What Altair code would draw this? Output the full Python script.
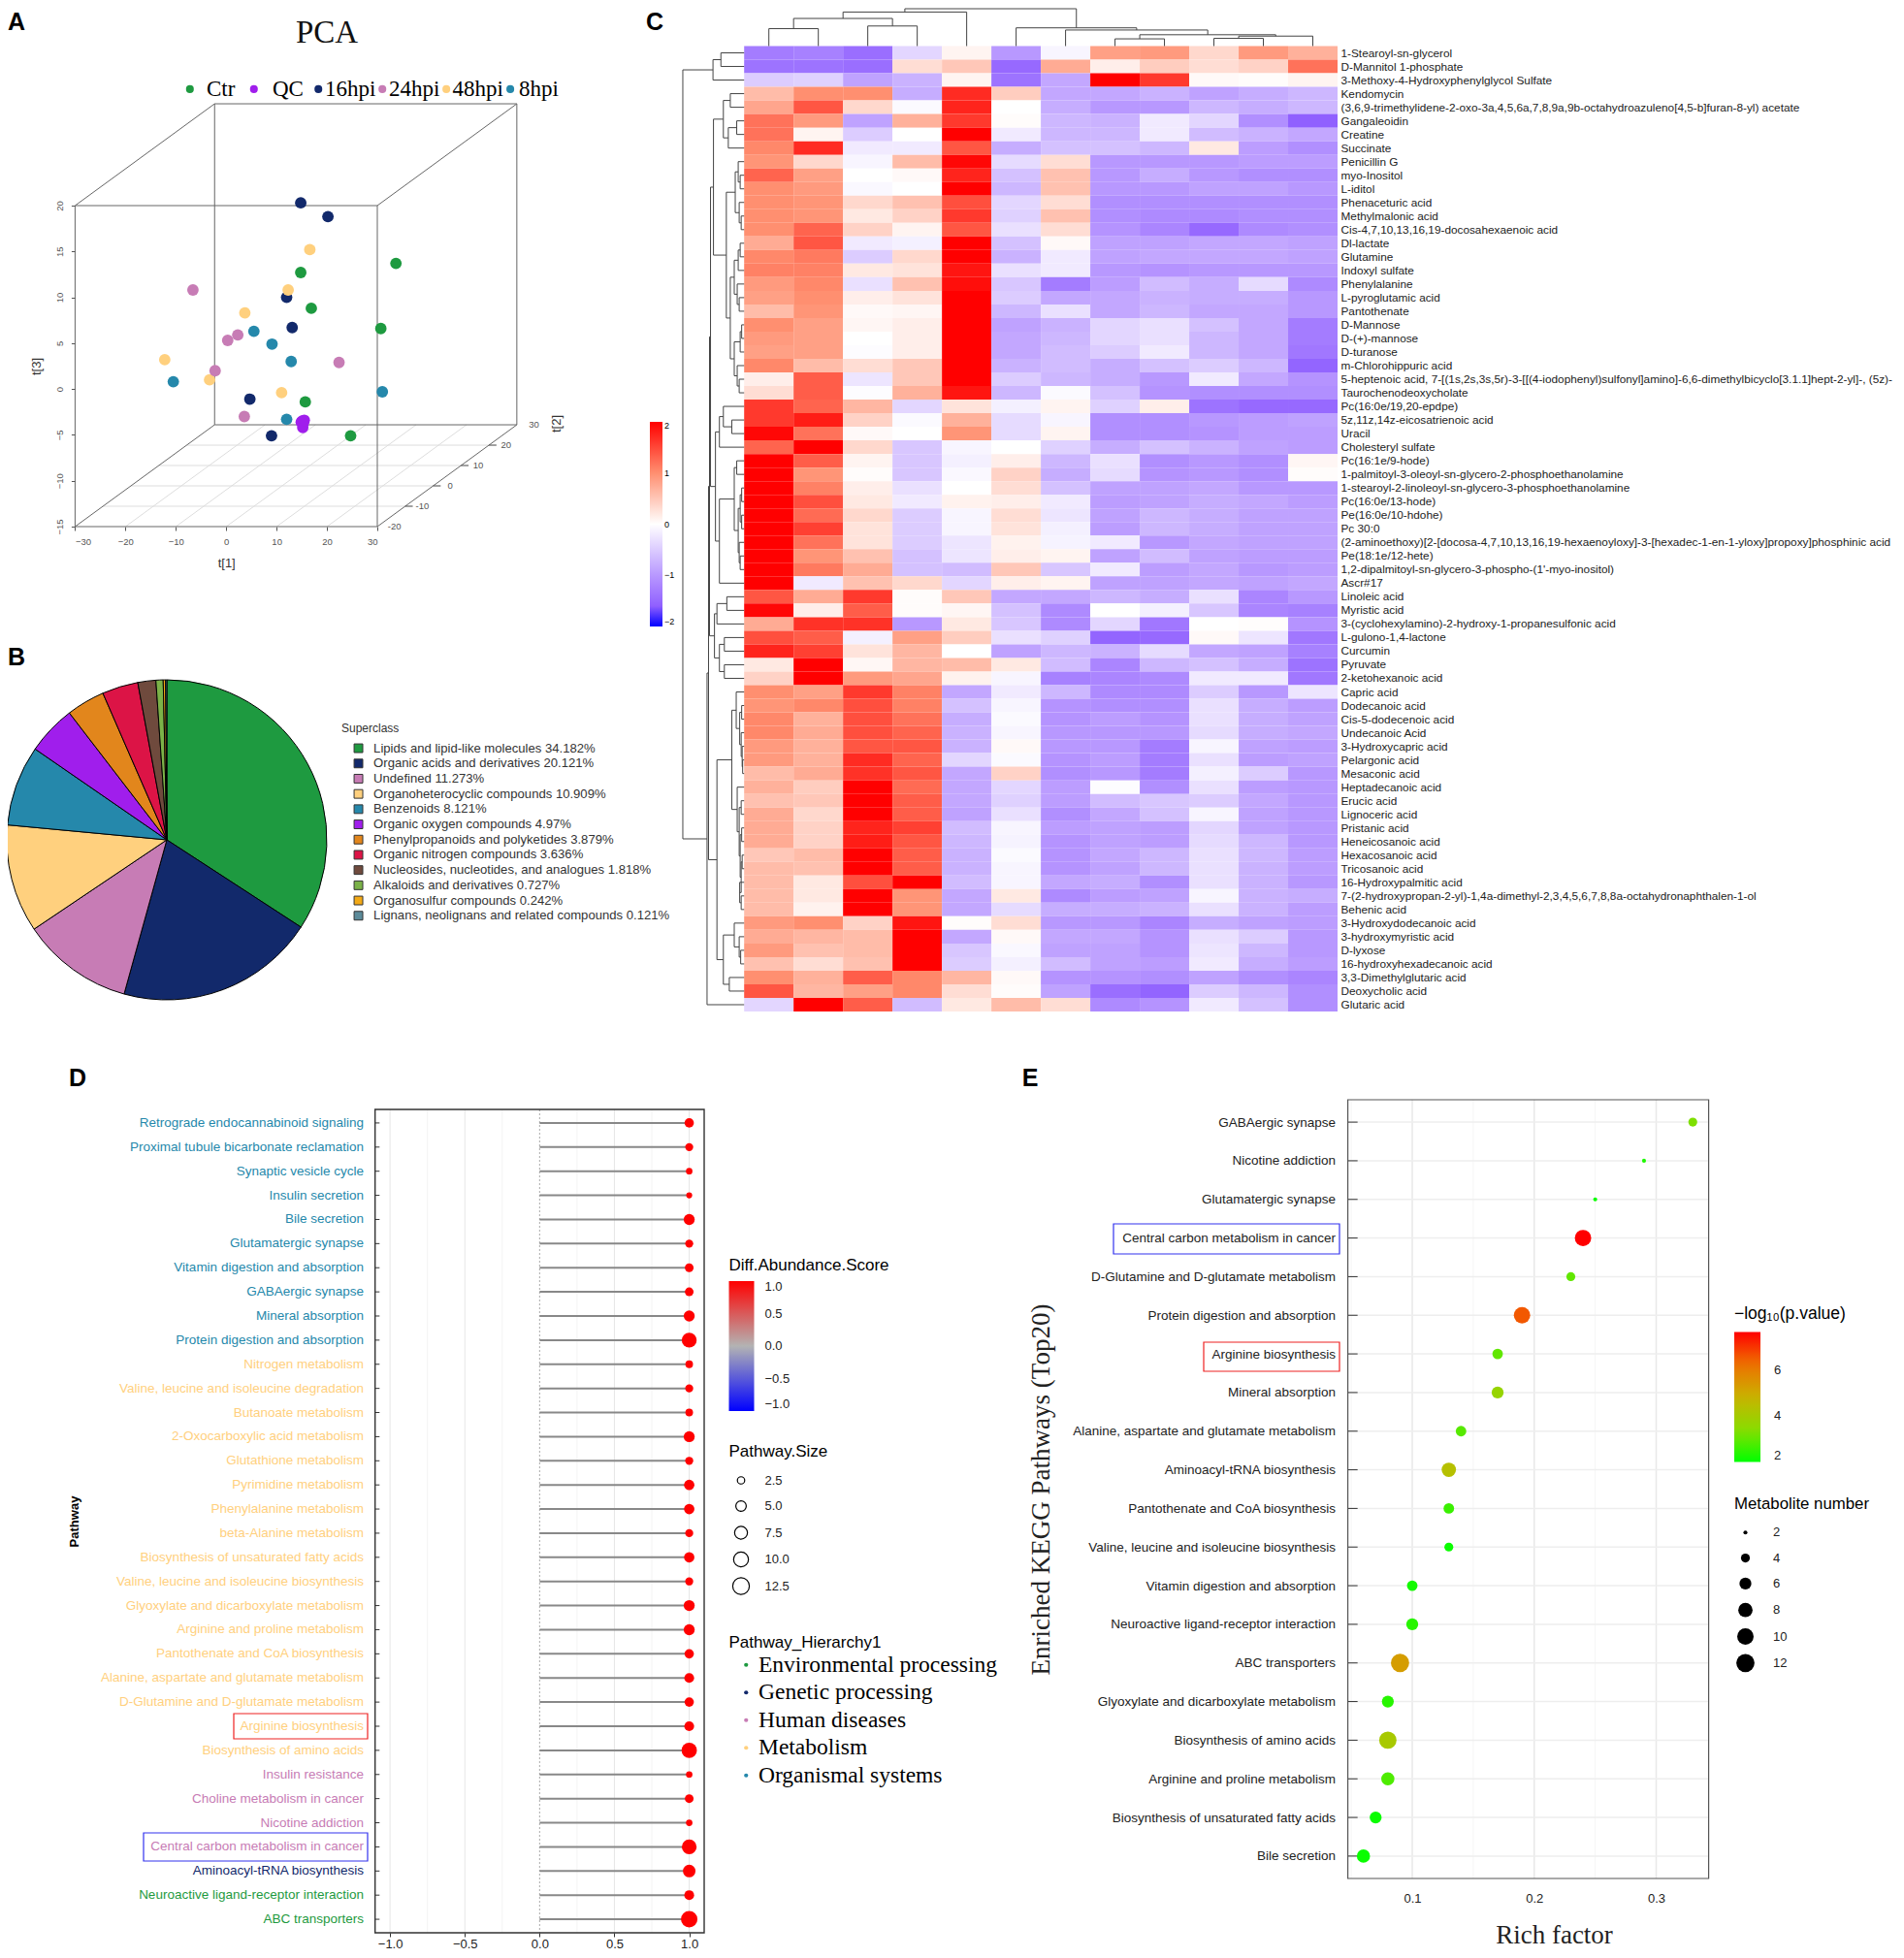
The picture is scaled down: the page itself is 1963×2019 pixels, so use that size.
import altair as alt
import pandas as pd

W, H = 1947, 2003
def vx(p): return p - 8
def vy(p): return p - 8
FONT = "Liberation Sans"
SERIF = "Liberation Serif"

# ---------------------------------------------------------------- panel A
pca_group = (["16hpi"]*6 + ["Ctr"]*6 + ["48hpi"]*6 + ["24hpi"]*6 + ["8hpi"]*6 + ["QC"]*5)
pca_t1 = [14.8,20.2,12.0,13.1,4.7,9.0, 33.7,14.8,16.9,30.7,15.7,24.7, 16.6,12.3,3.7,-12.2,-3.3,11.0,
          -6.6,2.3,0.3,-2.2,22.4,3.6, 5.5,9.1,12.9,-10.5,31.0,12.0, 15.1,15.3,14.9,15.2,15.5]
pca_t3 = [20.3,18.8,10.0,6.7,-1.1,-5.1, 13.7,12.7,8.8,6.6,-1.4,-5.1, 15.2,10.8,8.3,3.2,1.0,-0.4,
          10.8,5.9,5.3,2.0,2.9,-3.0, 6.3,4.9,3.0,0.8,-0.3,-3.3, -3.5,-3.7,-3.6,-4.2,-3.4]
pca_names = ["Ctr","QC","16hpi","24hpi","48hpi","8hpi"]
pca_colors = ["#1e9a40","#a01eec","#12296b","#c77cb5","#ffd07e","#2588ab"]
pca_key_dot = [-7.2,5.5,18.3,31.0,43.7,56.4]
pca_key_txt = [-3.9,9.2,19.6,32.3,44.9,58.1]
pca_key_y = [32.7]*6

def pr(t1, t2, t3):
    k = (t2 + 20) / 50
    return t1 + k * 27.7, t3 + k * 11.1

def seg(rows, a, b):
    p, q = pr(*a), pr(*b)
    rows.append({"x0": p[0], "y0": p[1], "x1": q[0], "y1": q[1]})

frame, floor, ticks = [], [], []
c = [(-30,-20,-15),(30,-20,-15),(30,-20,20),(-30,-20,20)]
d = [(-30,30,-15),(30,30,-15),(30,30,20),(-30,30,20)]
for i in range(4):
    seg(frame, c[i], c[(i+1)%4]); seg(frame, d[i], d[(i+1)%4]); seg(frame, c[i], d[i])
for t in [-10,0,10,20]:
    seg(floor, (-30,t,-15), (30,t,-15))
    seg(ticks, (30,t,-15), (31.5,t,-15))
for t in [-20,-10,0,10,20]:
    seg(floor, (t,-20,-15), (t,30,-15))
t2_vals = [-20,-10,0,10,20,30]
t2_lab = pd.DataFrame({"x":[pr(30,t,-15)[0]+3.4 for t in t2_vals],
                       "y":[pr(30,t,-15)[1] for t in t2_vals],"t":[str(t) for t in t2_vals]})
xA = alt.Scale(domain=[-30,30], range=[vx(77.4),vx(389)], nice=False, zero=False)
yA = alt.Scale(domain=[-15,20], range=[vy(543),vy(212)], nice=False, zero=False)
cA = alt.Scale(domain=pca_names, range=pca_colors)
def rulesA(rows, color, w):
    return alt.Chart(pd.DataFrame(rows)).mark_rule(color=color, strokeWidth=w).encode(
        x=alt.X("x0:Q", scale=xA), x2="x1:Q",
        y=alt.Y("y0:Q", scale=yA), y2="y1:Q")
pts = alt.Chart(pd.DataFrame({"t1":pca_t1,"t3":pca_t3,"g":pca_group})).mark_circle(size=140, opacity=1).encode(
    x=alt.X("t1:Q", scale=xA, axis=alt.Axis(orient="bottom", values=[-30,-20,-10,0,10,20,30], format="d", title="t[1]", offset=-(H-vy(543)),
        grid=False, domain=False, tickColor="#555", labelColor="#555", labelFontSize=9.5, tickSize=4,
        labelPadding=6, titleFontSize=13, titleFontWeight="normal", titlePadding=12, titleColor="#333")),
    y=alt.Y("t3:Q", scale=yA, axis=alt.Axis(orient="left", values=[-15,-10,-5,0,5,10,15,20], format="d", title="t[3]", offset=-vx(77.4),
        grid=False, domain=False, tickColor="#555", labelColor="#555", labelFontSize=9.5, tickSize=4,
        labelAngle=270, labelAlign="center", labelBaseline="bottom", labelPadding=7,
        titleFontSize=13, titleFontWeight="normal", titlePadding=12, titleColor="#333")),
    color=alt.Color("g:N", scale=cA, legend=None))
key_df = pd.DataFrame({"g":pca_names,"dx":pca_key_dot,"tx":pca_key_txt,"y":pca_key_y})
key_dots = alt.Chart(key_df).mark_circle(size=65, opacity=1).encode(
    x=alt.X("dx:Q", scale=xA), y=alt.Y("y:Q", scale=yA), color=alt.Color("g:N", scale=cA, legend=None))
key_text = alt.Chart(key_df).mark_text(font=SERIF, fontSize=23, align="left", color="black").encode(
    x=alt.X("tx:Q", scale=xA), y=alt.Y("y:Q", scale=yA), text="g:N")
t2text = alt.Chart(t2_lab).mark_text(fontSize=9.5, color="#555").encode(
    x=alt.X("x:Q", scale=xA), y=alt.Y("y:Q", scale=yA), text="t:N")
panel_a = alt.layer(rulesA(floor,"#dddddd",1), rulesA(frame,"#666666",1), rulesA(ticks,"#444444",1), pts, t2text, key_dots, key_text)
title_a = alt.Chart(pd.DataFrame({"t":["PCA"]})).mark_text(font=SERIF, fontSize=33, color="#111").encode(
    text="t:N", x=alt.value(vx(337)), y=alt.value(vy(34)))
t2_title = alt.Chart(pd.DataFrame({"t":["t[2]"]})).mark_text(fontSize=13, angle=270, color="#333").encode(
    text="t:N", x=alt.value(vx(574)), y=alt.value(vy(437)))

# ---------------------------------------------------------------- panel B
pie_names = ["Lipids and lipid-like molecules","Organic acids and derivatives","Undefined","Organoheterocyclic compounds",
             "Benzenoids","Organic oxygen compounds","Phenylpropanoids and polyketides","Organic nitrogen compounds",
             "Nucleosides, nucleotides, and analogues","Alkaloids and derivatives","Organosulfur compounds",
             "Lignans, neolignans and related compounds"]
pie_vals = [34.182,20.121,11.273,10.909,8.121,4.97,3.879,3.636,1.818,0.727,0.242,0.121]
pie_cols = ["#1e9a40","#12296b","#c77cb5","#ffd07e","#2588ab","#a01eec","#e2861c","#dc1446","#6f4a3d","#7bb248","#f3a916","#5c8b9a"]
pie_lab = [f"{n} {v}%" for n, v in zip(pie_names, pie_vals)]
pie = alt.Chart(pd.DataFrame({"lab":pie_lab,"v":pie_vals,"i":range(12)})).mark_arc(
    radius=165, stroke="black", strokeWidth=1).encode(
    theta=alt.Theta("v:Q", stack=True), order=alt.Order("i:Q"),
    x=alt.value(vx(172)), y=alt.value(vy(866)),
    color=alt.Color("lab:N", scale=alt.Scale(domain=pie_lab, range=pie_cols),
        legend=alt.Legend(orient="none", legendX=vx(352), legendY=vy(746), title="Superclass", padding=0,
            titleFontSize=12, titleFontWeight="normal", titleColor="#333", titlePadding=7,
            labelFontSize=13.1, labelColor="#333", labelLimit=0, symbolType="square", symbolSize=80,
            symbolStrokeColor="#333", symbolStrokeWidth=1, rowPadding=1.7, labelOffset=9, symbolOffset=11,
            columns=1)))

# ---------------------------------------------------------------- panel C
hm_rows = ["1-Stearoyl-sn-glycerol","D-Mannitol 1-phosphate","3-Methoxy-4-Hydroxyphenylglycol Sulfate","Kendomycin",
 "(3,6,9-trimethylidene-2-oxo-3a,4,5,6a,7,8,9a,9b-octahydroazuleno[4,5-b]furan-8-yl) acetate","Gangaleoidin","Creatine","Succinate",
 "Penicillin G","myo-Inositol","L-iditol","Phenaceturic acid","Methylmalonic acid","Cis-4,7,10,13,16,19-docosahexaenoic acid",
 "Dl-lactate","Glutamine","Indoxyl sulfate","Phenylalanine","L-pyroglutamic acid","Pantothenate","D-Mannose","D-(+)-mannose",
 "D-turanose","m-Chlorohippuric acid","5-heptenoic acid, 7-[(1s,2s,3s,5r)-3-[[(4-iodophenyl)sulfonyl]amino]-6,6-dimethylbicyclo[3.1.1]hept-2-yl]-, (5z)-",
 "Taurochenodeoxycholate","Pc(16:0e/19,20-epdpe)","5z,11z,14z-eicosatrienoic acid","Uracil","Cholesteryl sulfate","Pc(16:1e/9-hode)",
 "1-palmitoyl-3-oleoyl-sn-glycero-2-phosphoethanolamine","1-stearoyl-2-linoleoyl-sn-glycero-3-phosphoethanolamine","Pc(16:0e/13-hode)",
 "Pe(16:0e/10-hdohe)","Pc 30:0","(2-aminoethoxy)[2-[docosa-4,7,10,13,16,19-hexaenoyloxy]-3-[hexadec-1-en-1-yloxy]propoxy]phosphinic acid",
 "Pe(18:1e/12-hete)","1,2-dipalmitoyl-sn-glycero-3-phospho-(1'-myo-inositol)","Ascr#17","Linoleic acid","Myristic acid",
 "3-(cyclohexylamino)-2-hydroxy-1-propanesulfonic acid","L-gulono-1,4-lactone","Curcumin","Pyruvate","2-ketohexanoic acid","Capric acid",
 "Dodecanoic acid","Cis-5-dodecenoic acid","Undecanoic Acid","3-Hydroxycapric acid","Pelargonic acid","Mesaconic acid","Heptadecanoic acid",
 "Erucic acid","Lignoceric acid","Pristanic acid","Heneicosanoic acid","Hexacosanoic acid","Tricosanoic acid","16-Hydroxypalmitic acid",
 "7-(2-hydroxypropan-2-yl)-1,4a-dimethyl-2,3,4,5,6,7,8,8a-octahydronaphthalen-1-ol","Behenic acid","3-Hydroxydodecanoic acid",
 "3-hydroxymyristic acid","D-lyxose","16-hydroxyhexadecanoic acid","3,3-Dimethylglutaric acid","Deoxycholic acid","Glutaric acid"]
hm_vals = [
[-1.3,-1.25,-1.45,-.4,.1,-1.0,-.1,.85,.9,.35,.9,.7],
[-1.4,-1.4,-1.45,.3,.5,-1.5,.75,.15,.45,.3,.4,1.2],
[-.5,-.45,-.9,-.75,.1,-1.4,-.85,2,1.6,.05,.03,.1],
[.6,1.0,1.0,-.8,1.7,.45,-.85,-.85,-.75,-.9,-.8,-.7],
[.8,1.4,.35,-.05,1.75,0,-.8,-1.0,-1.0,-.7,-.8,-.7],
[1.2,.9,-.9,.7,1.6,.03,-.7,-.75,-.2,-.4,-1.1,-1.6],
[1.2,.1,-.5,0,2,-.2,-.7,-.7,-.2,-.65,-.75,-.85],
[1.05,1.7,-.2,-.2,1.4,-.8,-.6,-.6,-.7,.2,-.95,-1.1],
[.95,.35,-.1,.6,1.95,-.35,.3,-1.0,-1.0,-1.0,-.95,-.95],
[1.3,.85,0,.05,1.75,-.6,.55,-1.0,-.8,-1.0,-1.1,-1.1],
[1.0,.9,-.07,0,2,-.7,.55,-1.0,-1.0,-.9,-.9,-1.0],
[1.0,.95,.35,.55,1.45,-.4,.3,-1.1,-1.1,-1.1,-1.1,-1.1],
[1.0,.95,.2,.4,1.6,-.45,.55,-1.1,-1.15,-1.15,-1.1,-1.1],
[1.0,1.3,.4,.1,1.4,-.3,.3,-1.05,-1.2,-1.5,-1.15,-1.1],
[.75,1.4,-.2,-.15,2,-.6,.05,-.9,-.9,-.85,-.85,-.9],
[1.05,1.15,-.5,.35,2,-.75,-.2,-.9,-.85,-.85,-.85,-.9],
[1.1,1.1,.2,.25,1.85,-.3,-.2,-1.0,-1.05,-1.0,-1.0,-1.0],
[.9,1.05,-.3,.55,1.9,-.55,-1.3,-.95,-.65,-.8,-.35,-1.15],
[.85,1.0,.15,.25,2,-.5,-.85,-.85,-.75,-.8,-.8,-1.0],
[.6,.95,.05,.08,2,-.7,-.3,-.85,-.7,-.85,-.85,-1.0],
[1.0,.85,.08,.15,2,-.9,-.75,-.4,-.3,-.6,-.85,-1.3],
[.9,.85,0,.15,2,-.85,-.7,-.4,-.3,-.7,-.85,-1.3],
[.85,.85,-.03,.15,2,-.85,-.65,-.5,-.2,-.7,-.85,-1.35],
[1.05,.6,.3,.5,2,-.75,-.65,-.8,-.6,-.5,-.7,-1.55],
[.15,1.35,-.25,.5,2,-.5,-.7,-.8,-1.0,-.2,-.85,-1.05],
[.3,1.35,-.03,.7,1.85,-.7,-.05,-.6,-1.05,-1.1,-1.1,-1.1],
[1.6,1.3,.65,-.4,.25,-.15,.1,-.45,.15,-1.4,-1.5,-1.5],
[1.6,1.8,.4,-.05,.7,-.35,-.1,-1.1,-1.1,-1.0,-.95,-.9],
[1.95,1.2,.05,0,.95,-.35,.1,-1.1,-1.1,-1.05,-.95,-.95],
[1.3,2,.35,-.55,-.1,0,-.45,-.8,-.6,-.75,-.9,-.95],
[2,1.35,.1,-.55,-.15,.15,-.7,-.3,-1.1,-1.0,-1.1,.08],
[2,.95,.03,-.55,-.07,.4,-.8,-.35,-1.05,-1.0,-1.1,.03],
[2,1.1,.15,-.3,0,.3,-.6,-.9,-.9,-.85,-1.0,-1.0],
[2,1.45,.2,-.2,.12,.15,-.2,-.95,-.9,-.8,-.85,-.95],
[2,1.25,.35,-.5,-.1,.3,-.25,-.9,-.7,-.8,-.9,-.9],
[2,1.55,.25,-.5,-.1,.25,-.15,-.95,-.7,-.8,-.9,-.9],
[2,1.2,.25,-.5,-.25,.12,-.12,-.2,-1.0,-.85,-.9,-.9],
[2,.95,.55,-.6,-.25,.15,.1,-.9,-.65,-.9,-.95,-.95],
[2,1.15,.75,-.6,-.65,.5,-.55,-.2,-.95,-.85,-1.0,-.95],
[2,-.2,.55,.35,-.4,.15,.1,-.9,-.9,-.85,-.9,-.85],
[1.4,.75,1.6,.03,.5,-.85,-.85,-.7,-.8,-.3,-1.2,-1.0],
[1.95,.15,1.35,.03,.08,-.6,-1.15,0,-.15,-.55,-1.2,-1.25],
[.75,1.65,1.65,-1.0,.2,-.55,-1.15,-.4,-1.35,0,.02,-1.05],
[1.45,1.35,-.15,.85,.45,-.3,-.45,-1.55,-1.5,.05,-.25,-1.35],
[1.75,1.55,.25,.65,0,-.9,-.7,-.75,-.35,-.85,-.9,-1.25],
[.2,2,.07,.65,.6,.2,-.65,-1.2,-.7,-.6,-.8,-1.4],
[.4,2,.9,.8,.12,-.1,-1.25,-1.2,-1.15,-.2,-.2,-1.35],
[1.0,.85,1.6,1.1,-.85,-.2,-.7,-1.15,-1.15,-.5,-1.0,-.25],
[.95,1.05,1.45,1.1,-.6,-.1,-1.05,-1.1,-1.1,-.3,-.8,-.95],
[1.05,.7,1.45,1.2,-.8,-.05,-1.05,-.95,-1.05,-.3,-.8,-.9],
[1.05,.75,1.45,1.3,-.75,-.1,-1.0,-1.0,-1.0,-.35,-.8,-.85],
[.9,.7,1.4,1.4,-.75,.05,-1.0,-1.0,-1.3,-.1,-.9,-.95],
[.9,.7,1.7,1.3,-.4,-.05,-1.05,-.95,-1.3,-.3,-.95,-.9],
[.6,.75,1.65,1.4,-.85,.4,-1.1,-1.0,-1.3,-.15,-.5,-1.0],
[.7,.45,2,1.25,-.85,-.4,-.95,-.03,-1.1,-.3,-.95,-1.0],
[.55,.5,2,1.35,-.85,-.45,-.95,-.65,-.55,-.5,-.85,-1.0],
[.75,.35,2,1.35,-.9,-.3,-1.1,-.85,-.6,-.1,-.9,-1.0],
[.75,.4,1.75,1.55,-.65,-.1,-.95,-.9,-.95,-.4,-.9,-1.0],
[.75,.4,1.8,1.4,-.7,-.12,-1.05,-.9,-.95,-.35,-.7,-1.0],
[.5,.6,2,1.35,-.75,-.05,-1.05,-.85,-.7,-.3,-.7,-.95],
[.6,.55,2,1.35,-.75,-.1,-1.05,-.9,-.7,-.3,-.75,-.95],
[.6,.2,1.45,2,-.65,-.1,-.85,-.8,-1.1,-.3,-.75,-1.0],
[.6,.2,2,.95,-.85,.2,-1.15,-.95,-.9,-.1,-.75,-.8],
[.6,.12,2,.95,-.85,-.35,-.8,-.8,-.75,-.3,-.75,-.95],
[.9,1.0,.4,1.85,.03,.3,-1.0,-1.0,-1.2,-.8,-.9,-.95],
[.75,.65,.6,2,-.85,.05,-.85,-.85,-1.05,-.3,-.5,-1.0],
[.9,.55,.6,2,-.55,-.07,-.9,-.9,-1.05,-.25,-.7,-1.0],
[.55,.3,.55,2,-.5,-.15,-.65,-.9,-.95,-.2,-.8,-.95],
[1.0,.7,1.35,1.05,.65,.05,-1.05,-1.05,-1.1,-.9,-1.1,-1.2],
[1.4,.65,.85,1.05,.3,.03,-.9,-1.45,-1.55,-.5,-.7,-1.1],
[-.4,2,1.35,-.65,.2,.6,.3,-1.15,-1.05,-.2,-.6,-1.1]]
hm_cols = [f"S{i+1}" for i in range(12)]
hm_df = pd.DataFrame([{"r":hm_rows[i],"c":hm_cols[j],"v":hm_vals[i][j]} for i in range(71) for j in range(12)])
HX0, HX1, HY0, HY1 = vx(767.2), vx(1379), vy(47.5), vy(1043)
heat = alt.Chart(hm_df).mark_rect().encode(
    x=alt.X("c:N", sort=hm_cols, scale=alt.Scale(domain=hm_cols, range=[HX0,HX1], paddingInner=0, paddingOuter=0), axis=None),
    y=alt.Y("r:N", sort=hm_rows, scale=alt.Scale(domain=hm_rows, range=[HY0,HY1], paddingInner=0, paddingOuter=0),
        axis=alt.Axis(orient="right", offset=-(W-HX1), title=None, ticks=False, domain=False, labelFontSize=11.8,
            labelLimit=0, labelPadding=3, labelOverlap=False, labelColor="#222")),
    color=alt.Color("v:Q", scale=alt.Scale(domain=[-2,-1.6,-1,0,1,2],
            range=["#0000ff","#9060ff","#b898ff","#ffffff","#ff8f70","#ff0000"], interpolate="rgb"),
        legend=alt.Legend(orient="none", legendX=vx(670), legendY=vy(435), title=None, gradientLength=211, gradientThickness=13,
            values=[-2,-1,0,1,2], labelFontSize=9, padding=0, labelOverlap=False, labelOffset=2, format="d")))

col_tree = (46.5,(42.4,(34.4,(21.7,0,1),(25,2,3)),4),(22.7,5,(20,6,(14.1,(9,7,8),(12.4,(9.6,9,10),11)))))
r3_7 = (0.42,(0.28,3,4),(0.32,(0.15,5,6),7))
r8_13 = (0.18,(0.12,8,(0.08,9,10)),(0.1,11,(0.06,12,13)))
r14_19 = (0.2,(0.12,(0.08,14,15),16),(0.14,17,(0.1,18,19)))
r20_25 = (0.2,(0.08,(0.05,20,21),22),(0.14,23,(0.1,24,25)))
r8_25 = (0.36,r8_13,(0.28,r14_19,r20_25))
r3_25 = (0.62,r3_7,r8_25)
r26_29 = (0.5,(0.42,26,(0.25,27,28)),29)
r30_38 = (0.2,(0.15,30,31),(0.12,(0.08,(0.05,32,33),(0.05,34,35)),(0.1,36,(0.08,37,38))))
r26_39 = (0.58,r26_29,(0.5,r30_38,39))
r3_39 = (0.68,r3_25,r26_39)
r40_46 = (0.6,(0.55,(0.35,40,41),42),(0.5,(0.4,43,44),(0.4,45,46)))
r47_53 = (0.16,47,(0.09,(0.05,48,49),(0.06,50,(0.04,51,(0.03,52,53)))))
r54_63 = (0.14,54,(0.1,(0.06,55,56),(0.08,(0.05,57,58),(0.06,(0.04,59,60),(0.09,61,(0.06,62,63))))))
r64_69 = (0.42,(0.2,64,(0.1,65,(0.07,66,67))),(0.3,68,69))
r47_69 = (0.55,(0.25,r47_53,r54_63),r64_69)
row_tree = (1.24,(0.63,(0.47,0,1),2),(0.75,(0.72,(0.7,r3_39,r40_46),r47_69),70))

def walk(node, out):
    if isinstance(node, int):
        return node + 0.5, 0.0
    h, l, r = node
    cl, hl = walk(l, out); cr, hr = walk(r, out)
    out.append((cl,hl,cl,h)); out.append((cr,hr,cr,h)); out.append((cl,h,cr,h))
    return (cl+cr)/2, h
cs, rs = [], []
walk(col_tree, cs); walk(row_tree, rs)
cdf = pd.DataFrame(cs, columns=["p0","h0","p1","h1"])
rdf = pd.DataFrame(rs, columns=["p0","h0","p1","h1"])
dend_top = alt.Chart(cdf).mark_rule(color="#444", strokeWidth=1).encode(
    x=alt.X("p0:Q", scale=alt.Scale(domain=[0,12], range=[HX0,HX1], nice=False, zero=False), axis=None), x2="p1:Q",
    y=alt.Y("h0:Q", scale=alt.Scale(domain=[0,46.5], range=[HY0,1], nice=False, zero=False), axis=None), y2="h1:Q")
cw = (HX1-HX0)/12
dend_left = alt.Chart(rdf).mark_rule(color="#444", strokeWidth=1).encode(
    x=alt.X("h0:Q", scale=alt.Scale(domain=[0,1.3], range=[HX0,HX0-1.3*cw], nice=False, zero=False), axis=None), x2="h1:Q",
    y=alt.Y("p0:Q", scale=alt.Scale(domain=[0,71], range=[HY0,HY1], nice=False, zero=False), axis=None), y2="p1:Q")

# ---------------------------------------------------------------- panel D
d_rows = ["Retrograde endocannabinoid signaling","Proximal tubule bicarbonate reclamation","Synaptic vesicle cycle","Insulin secretion",
 "Bile secretion","Glutamatergic synapse","Vitamin digestion and absorption","GABAergic synapse","Mineral absorption",
 "Protein digestion and absorption","Nitrogen metabolism","Valine, leucine and isoleucine degradation","Butanoate metabolism",
 "2-Oxocarboxylic acid metabolism","Glutathione metabolism","Pyrimidine metabolism","Phenylalanine metabolism","beta-Alanine metabolism",
 "Biosynthesis of unsaturated fatty acids","Valine, leucine and isoleucine biosynthesis","Glyoxylate and dicarboxylate metabolism",
 "Arginine and proline metabolism","Pantothenate and CoA biosynthesis","Alanine, aspartate and glutamate metabolism",
 "D-Glutamine and D-glutamate metabolism","Arginine biosynthesis","Biosynthesis of amino acids","Insulin resistance",
 "Choline metabolism in cancer","Nicotine addiction","Central carbon metabolism in cancer","Aminoacyl-tRNA biosynthesis",
 "Neuroactive ligand-receptor interaction","ABC transporters"]
d_hier = ["Organismal systems"]*10 + ["Metabolism"]*17 + ["Human diseases"]*4 + ["Genetic processing"] + ["Environmental processing"]*2
d_size = [4,3,2,1.7,5.5,3,3.5,3.5,5.5,10, 2.7,3,2.7,5.5,3,4.9,4.9,3,4.9,3,5.5,5.5,4,4.4,4,4.4,10.6, 2,3.5,2,9.9,7.2,4.4,12.2]
d_score = [1.0]*34
h_names = ["Environmental processing","Genetic processing","Human diseases","Metabolism","Organismal systems"]
h_cols = ["#1e9a40","#12296b","#c77cb5","#ffd07e","#2588ab"]
d_df = pd.DataFrame({"p":d_rows,"h":d_hier,"s":d_size,"v":d_score,"zero":0.0})
DL, DR, DT, DB = vx(386.7), vx(726), vy(1144), vy(1993)
xD = alt.Scale(domain=[-1.1,1.1], range=[DL,DR], nice=False, zero=False)
yD = alt.Scale(type="point", domain=d_rows, range=[DT,DB], padding=0.56)
d_grid_major = [-1.0,-0.5,0.5,1.0]
d_grid_minor = [-0.75,-0.25,0.25,0.75]
def vgrid(vals, scale, top, bot, color, w=1, dash=None):
    kw = {"strokeDash": dash} if dash else {}
    return alt.Chart(pd.DataFrame({"x":vals})).mark_rule(color=color, strokeWidth=w, **kw).encode(
        x=alt.X("x:Q", scale=scale), y=alt.value(top), y2=alt.value(bot))
d_ticks = alt.Chart(d_df.assign(a=-1.1, b=-1.07)).mark_rule(color="#333", strokeWidth=1).encode(
    x=alt.X("a:Q", scale=xD), x2="b:Q",
    y=alt.Y("p:N", sort=d_rows, scale=yD, axis=alt.Axis(orient="left", title="Pathway", labels=False, ticks=False, domain=False, grid=False,
        offset=-DL, titleFontSize=13, titleFontWeight="bold", titlePadding=303, titleColor="black")))
d_text = alt.Chart(d_df).mark_text(align="right", fontSize=13.5).encode(
    x=alt.value(vx(375)), y=alt.Y("p:N", sort=d_rows, scale=yD), text="p:N",
    color=alt.Color("h:N", scale=alt.Scale(domain=h_names, range=h_cols),
        legend=alt.Legend(orient="none", legendX=vx(751.5), legendY=vy(1686), title="Pathway_Hierarchy1", padding=0,
            titleFontSize=17, titleFontWeight="normal", titleColor="black", titlePadding=2,
            labelFont=SERIF, labelFontSize=23.5, labelColor="black", symbolSize=18, symbolType="circle", rowPadding=3.5,
            symbolOffset=6, labelOffset=1, labelLimit=0, columns=1)))
d_stem = alt.Chart(d_df).mark_rule(color="#888888", strokeWidth=2).encode(
    x=alt.X("zero:Q", scale=xD, axis=alt.Axis(orient="bottom", values=[-1,-0.5,0,0.5,1], format=".1f", title=None, grid=False, offset=-(H-DB),
        domain=False, tickColor="#333", tickSize=4, labelFontSize=13, labelPadding=1, labelColor="#222")),
    x2="v:Q", y=alt.Y("p:N", sort=d_rows, scale=yD))
d_pts = alt.Chart(d_df).mark_circle(opacity=1).encode(
    x=alt.X("v:Q", scale=xD), y=alt.Y("p:N", sort=d_rows, scale=yD),
    color=alt.Color("v:Q", scale=alt.Scale(domain=[-1,0,1], range=["#0000ff","#b3b3b3","#ff0000"], interpolate="rgb"),
        legend=alt.Legend(orient="none", legendX=vx(751.5), legendY=vy(1297), title="Diff.Abundance.Score", padding=0,
            titleFontSize=17, titleFontWeight="normal", titleColor="black", titlePadding=7, gradientLength=134,
            gradientThickness=26, values=[-1,-0.5,0,0.5,1], format=".1f", labelFontSize=13, labelColor="#222", labelOverlap=False,
            gradientStrokeWidth=0, labelOffset=11)),
    size=alt.Size("s:Q", scale=alt.Scale(domain=[2,12.5], range=[45,295]),
        legend=alt.Legend(orient="none", legendX=vx(751.5), legendY=vy(1489), title="Pathway.Size", padding=0,
            titleFontSize=17, titleFontWeight="normal", titleColor="black", titlePadding=14, values=[2.5,5,7.5,10,12.5],
            format=".1f", labelFontSize=13, labelColor="#222", symbolFillColor="transparent", symbolStrokeColor="black",
            symbolStrokeWidth=1.2, symbolType="circle", rowPadding=3.5, symbolOffset=3, labelOffset=15, gridAlign="all")))
def box(x0,x1,y0,y1,color,w=1.2):
    return alt.Chart(pd.DataFrame({"a":[0]})).mark_rect(fillOpacity=0, stroke=color, strokeWidth=w).encode(
        x=alt.value(x0), x2=alt.value(x1), y=alt.value(y0), y2=alt.value(y1))
panel_d = alt.layer(vgrid(d_grid_minor,xD,DT,DB,"#f3f3f3"), vgrid(d_grid_major,xD,DT,DB,"#e6e6e6"),
                    vgrid([0.0],xD,DT,DB,"#aaaaaa",1,[2,2]), d_stem, d_pts, d_text, d_ticks)

# ---------------------------------------------------------------- panel E
e_rows = ["GABAergic synapse","Nicotine addiction","Glutamatergic synapse","Central carbon metabolism in cancer",
 "D-Glutamine and D-glutamate metabolism","Protein digestion and absorption","Arginine biosynthesis","Mineral absorption",
 "Alanine, aspartate and glutamate metabolism","Aminoacyl-tRNA biosynthesis","Pantothenate and CoA biosynthesis",
 "Valine, leucine and isoleucine biosynthesis","Vitamin digestion and absorption","Neuroactive ligand-receptor interaction",
 "ABC transporters","Glyoxylate and dicarboxylate metabolism","Biosynthesis of amino acids","Arginine and proline metabolism",
 "Biosynthesis of unsaturated fatty acids","Bile secretion"]
e_rich = [.33,.29,.25,.24,.23,.19,.17,.17,.14,.13,.13,.13,.10,.10,.09,.08,.08,.08,.07,.06]
e_num = [4,2,2,10,4,10,5,6,5,8,5,4,5,6,12,6,11,7,6,7]
e_logp = [3.3,2.3,2.1,7.7,3.0,6.6,3.0,3.7,2.9,4.4,2.6,2.1,2.2,2.4,5.3,2.4,4.1,2.8,2.1,2.1]
EL, ER, ET, EB = vx(1389.6), vx(1761.6), vy(1134), vy(1937)
EMIN, EMAX = 0.0472, 0.343
xE = alt.Scale(domain=[EMIN,EMAX], range=[EL,ER], nice=False, zero=False)
yE = alt.Scale(type="point", domain=e_rows, range=[ET,EB], padding=0.58)
e_df = pd.DataFrame({"p":e_rows,"r":e_rich,"n":e_num,"l":e_logp,"a":EMIN,"b":EMAX,"c":EMIN+0.008})
e_hgrid = alt.Chart(e_df).mark_rule(color="#eeeeee", strokeWidth=1.5).encode(
    x=alt.X("a:Q", scale=xE), x2="b:Q",
    y=alt.Y("p:N", sort=e_rows, scale=yE, axis=alt.Axis(orient="left", title="Enriched KEGG Pathways (Top20)", ticks=False, domain=False, grid=False,
        offset=-EL, labelFontSize=13.5, labelPadding=13, labelLimit=0, labelColor="#222", labelOverlap=False,
        titleFont=SERIF, titleFontSize=27, titleFontWeight="normal", titlePadding=102, titleColor="#222")))
e_ticks = alt.Chart(e_df).mark_rule(color="#333", strokeWidth=1).encode(
    x=alt.X("a:Q", scale=xE), x2="c:Q", y=alt.Y("p:N", sort=e_rows, scale=yE))
e_pts = alt.Chart(e_df).mark_circle(opacity=1).encode(
    x=alt.X("r:Q", scale=xE, axis=alt.Axis(orient="bottom", values=[0.1,0.2,0.3], format=".1f", title="Rich factor", grid=False, ticks=False, domain=False,
        offset=-(H-EB), labelFontSize=13, labelPadding=14, labelColor="#222", titleX=vx(1602),
        titleFont=SERIF, titleFontSize=27, titleFontWeight="normal", titlePadding=18, titleColor="#222")),
    y=alt.Y("p:N", sort=e_rows, scale=yE),
    color=alt.Color("l:Q", scale=alt.Scale(domain=[2,3.4,4.8,6.3,7.7], range=["#00ff00","#88dd00","#c8b400","#ee7000","#ff0000"], interpolate="rgb"),
        legend=alt.Legend(orient="none", legendX=vx(1788), legendY=vy(1346), title="\u2212log\u2081\u2080(p.value)", padding=0,
            titleFontSize=17.5, titleFontWeight="normal", titleColor="black", titlePadding=10, gradientLength=134,
            gradientThickness=27, values=[2,4,6], format="d", labelFontSize=13, labelColor="#222", gradientStrokeWidth=0, labelOffset=14)),
    size=alt.Size("n:Q", scale=alt.Scale(domain=[2,12], range=[17,353]),
        legend=alt.Legend(orient="none", legendX=vx(1788), legendY=vy(1543), title="Metabolite number", padding=0,
            titleFontSize=16.8, titleFontWeight="normal", titleColor="black", titlePadding=14, values=[2,4,6,8,10,12],
            labelFontSize=13, labelColor="#222", symbolFillColor="black", symbolStrokeColor="black", symbolStrokeWidth=0,
            symbolType="circle", rowPadding=7.3, symbolOffset=2, labelOffset=19, gridAlign="all")))
panel_e = alt.layer(vgrid([0.05,0.15,0.25],xE,ET,EB,"#f5f5f5"), vgrid([0.1,0.2,0.3],xE,ET,EB,"#e8e8e8",1.5), e_hgrid, e_ticks, e_pts)

# ---------------------------------------------------------------- letters
letters = []
for t, px, py in [("A",17,23),("B",17,678),("C",675,23),("D",80,1112),("E",1062,1112)]:
    letters.append(alt.Chart(pd.DataFrame({"t":[t]})).mark_text(fontSize=25, fontWeight="bold", color="black").encode(
        text="t:N", x=alt.value(vx(px)), y=alt.value(vy(py))))

chart = alt.layer(
    panel_a, title_a, t2_title, pie, heat, dend_top, dend_left, panel_d, panel_e,
    box(vx(386.7),vx(726),vy(1144),vy(1993),"#333333",1.4),
    box(vx(241),vx(379),vy(1767),vy(1793),"#ee2222"),
    box(vx(148),vx(379),vy(1890),vy(1919),"#3333ee"),
    box(vx(1389.6),vx(1761.6),vy(1134),vy(1937),"#555555",1.2),
    box(vx(1148),vx(1381),vy(1262),vy(1293),"#3333ee"),
    box(vx(1241),vx(1381),vy(1384),vy(1414),"#ee2222"),
    *letters
).resolve_scale(x="independent", y="independent", color="independent", size="independent").properties(
    width=W, height=H, padding=0, autosize=alt.AutoSizeParams(type="none")
).configure(font=FONT).configure_view(stroke=None)

chart.save("out.html", embed_options={"renderer": "svg", "actions": False})
